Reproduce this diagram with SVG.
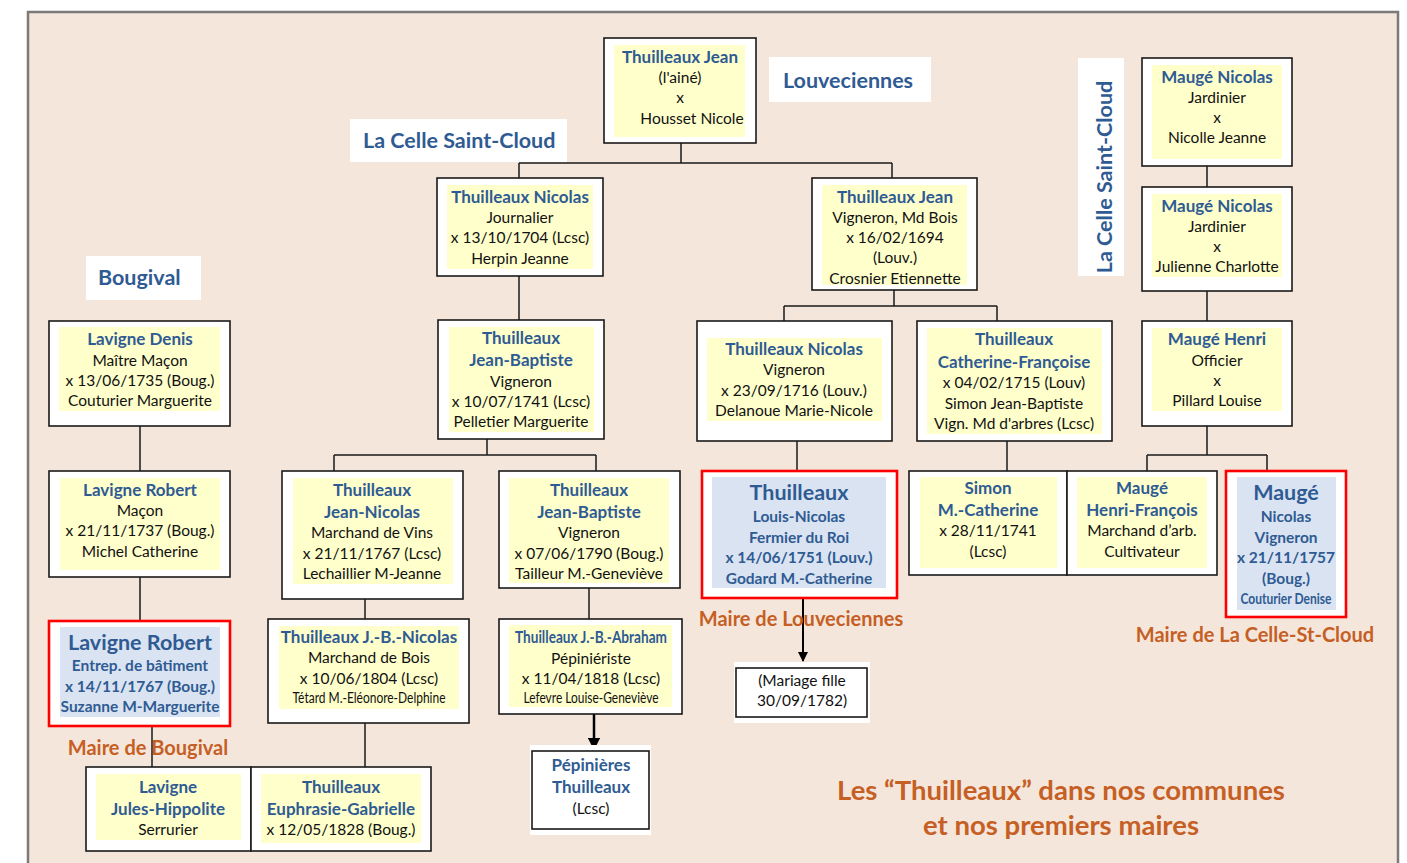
<svg xmlns="http://www.w3.org/2000/svg" width="1407" height="863" viewBox="0 0 1407 863">
<defs>
<style>
.bx{fill:#fff;stroke:#1a1a1a;stroke-width:1.6}
.rb{fill:#fff;stroke:#ff0000;stroke-width:2.6}
.y{fill:#ffffcc}
.b{fill:#dae3f1}
.w{fill:#fff}
text{font-family:Lato,"Open Sans","Liberation Sans",sans-serif;text-anchor:middle}
.n{font-weight:bold;font-size:17px;fill:#2f5b93}
.m{font-weight:bold;font-size:15.5px;fill:#2f5b93}
.t{font-size:15.5px;fill:#111}
.nb{font-weight:bold;font-size:21.5px;fill:#2f5b93}
.lab{font-weight:bold;font-size:21.5px;fill:#2f5b93;text-anchor:start}
.or{font-weight:bold;font-size:20px;fill:#c55f24}
.ti{font-weight:bold;font-size:27.5px;fill:#c55f24}
.c{fill:none;stroke:#1a1a1a;stroke-width:1.5}
</style>
<marker id="ah" viewBox="0 0 10 10" refX="9" refY="5" markerWidth="5" markerHeight="5" orient="auto"><path d="M0,0 L10,5 L0,10 z" fill="#000"/></marker>
</defs>
<rect x="0" y="0" width="1407" height="863" fill="#ffffff"/>
<rect x="28" y="12" width="1370" height="870" fill="#f5e6dc" stroke="#7a7a7a" stroke-width="2.5"/>

<g id="labels">
<rect class="w" x="769" y="57" width="162" height="45"/>
<text class="lab" x="783" y="88">Louveciennes</text>
<rect class="w" x="350" y="119" width="217" height="43"/>
<text class="lab" x="363" y="148">La Celle Saint-Cloud</text>
<rect class="w" x="86" y="256" width="115" height="44"/>
<text class="lab" x="98" y="285">Bougival</text>
<rect class="w" x="1078" y="58" width="46" height="218"/>
<text class="nb" transform="translate(1112,177) rotate(-90)">La Celle Saint-Cloud</text>
</g>

<g id="connectors">
<path class="c" d="M681,143 V163 M519,163 H892 M519,163 V178 M892,163 V178"/>
<path class="c" d="M519,276 V320"/>
<path class="c" d="M894,290 V306 M784,306 H997 M784,306 V321 M997,306 V321"/>
<path class="c" d="M1207,158 V187 M1207,291 V321"/>
<path class="c" d="M1207,426 V455 M1147,455 H1267 M1147,455 V471 M1267,455 V470"/>
<path class="c" d="M1007,441 V471"/>
<path class="c" d="M797,441 V470"/>
<path class="c" d="M140,426 V471 M140,577 V620 M152,726 V767"/>
<path class="c" d="M487,388 V455 M334,455 H596 M334,455 V471 M596,455 V471"/>
<path class="c" d="M365,599 V619 M365,723 V767"/>
<path class="c" d="M589,578 V619"/>
<path d="M803,598 V661" fill="none" stroke="#000" stroke-width="2" marker-end="url(#ah)"/>
<path d="M594,714 V749" fill="none" stroke="#000" stroke-width="2.5" marker-end="url(#ah)"/>
</g>

<g id="n-jean-aine">
<rect class="bx" x="604" y="38" width="152" height="105"/>
<rect class="y" x="614" y="45" width="131" height="92"/>
<text class="n" x="680" y="63">Thuilleaux Jean</text>
<text class="t" x="680" y="83">(l'ainé)</text>
<text class="t" x="680" y="103">x</text>
<text class="t" x="692" y="124">Housset Nicole</text>
</g>

<g id="n-nicolas-journalier">
<rect class="bx" x="437" y="178" width="166" height="98"/>
<rect class="y" x="447" y="185" width="146" height="84"/>
<text class="n" x="520" y="203">Thuilleaux Nicolas</text>
<text class="t" x="520" y="223">Journalier</text>
<text class="t" x="520" y="243">x 13/10/1704 (Lcsc)</text>
<text class="t" x="520" y="264">Herpin Jeanne</text>
</g>

<g id="n-jean-vigneron">
<rect class="bx" x="812" y="178" width="165" height="112"/>
<rect class="y" x="822" y="185" width="145" height="100"/>
<text class="n" x="895" y="203">Thuilleaux Jean</text>
<text class="t" x="895" y="223">Vigneron, Md Bois</text>
<text class="t" x="895" y="243">x 16/02/1694</text>
<text class="t" x="895" y="263">(Louv.)</text>
<text class="t" x="895" y="284">Crosnier Etiennette</text>
</g>

<g id="n-mauge-nicolas-1">
<rect class="bx" x="1142" y="58" width="150" height="108"/>
<rect class="y" x="1152" y="65" width="130" height="94"/>
<text class="n" x="1217" y="83">Maugé Nicolas</text>
<text class="t" x="1217" y="103">Jardinier</text>
<text class="t" x="1217" y="123">x</text>
<text class="t" x="1217" y="143">Nicolle Jeanne</text>
</g>

<g id="n-mauge-nicolas-2">
<rect class="bx" x="1142" y="187" width="150" height="104"/>
<rect class="y" x="1152" y="194" width="130" height="83"/>
<text class="n" x="1217" y="212">Maugé Nicolas</text>
<text class="t" x="1217" y="232">Jardinier</text>
<text class="t" x="1217" y="252">x</text>
<text class="t" x="1217" y="272">Julienne Charlotte</text>
</g>

<g id="n-mauge-henri">
<rect class="bx" x="1142" y="321" width="150" height="105"/>
<rect class="y" x="1152" y="328" width="130" height="83"/>
<text class="n" x="1217" y="345">Maugé Henri</text>
<text class="t" x="1217" y="366">Officier</text>
<text class="t" x="1217" y="386">x</text>
<text class="t" x="1217" y="406">Pillard Louise</text>
</g>

<g id="n-lavigne-denis">
<rect class="bx" x="49" y="321" width="181" height="105"/>
<rect class="y" x="59" y="327" width="161" height="84"/>
<text class="n" x="140" y="345">Lavigne Denis</text>
<text class="t" x="140" y="366">Maître Maçon</text>
<text class="t" x="140" y="386">x 13/06/1735 (Boug.)</text>
<text class="t" x="140" y="406">Couturier Marguerite</text>
</g>

<g id="n-jb-1741">
<rect class="bx" x="438" y="320" width="166" height="119"/>
<rect class="y" x="449" y="327" width="145" height="105"/>
<text class="n" x="521" y="344">Thuilleaux</text>
<text class="n" x="521" y="366">Jean-Baptiste</text>
<text class="t" x="521" y="387">Vigneron</text>
<text class="t" x="521" y="407">x 10/07/1741 (Lcsc)</text>
<text class="t" x="521" y="427">Pelletier Marguerite</text>
</g>

<g id="n-nicolas-1716">
<rect class="bx" x="697" y="321" width="195" height="120"/>
<rect class="y" x="707" y="338" width="175" height="83"/>
<text class="n" x="794" y="355">Thuilleaux Nicolas</text>
<text class="t" x="794" y="375">Vigneron</text>
<text class="t" x="794" y="396">x 23/09/1716 (Louv.)</text>
<text class="t" x="794" y="416">Delanoue Marie-Nicole</text>
</g>

<g id="n-catherine-francoise">
<rect class="bx" x="917" y="321" width="195" height="120"/>
<rect class="y" x="927" y="328" width="175" height="106"/>
<text class="n" x="1014" y="345">Thuilleaux</text>
<text class="n" x="1014" y="368">Catherine-Françoise</text>
<text class="t" x="1014" y="388">x 04/02/1715 (Louv)</text>
<text class="t" x="1014" y="409">Simon Jean-Baptiste</text>
<text class="t" x="1014" y="429">Vign. Md d'arbres (Lcsc)</text>
</g>

<g id="n-lavigne-robert-macon">
<rect class="bx" x="49" y="471" width="181" height="106"/>
<rect class="y" x="60" y="478" width="160" height="92"/>
<text class="n" x="140" y="496">Lavigne Robert</text>
<text class="t" x="140" y="516">Maçon</text>
<text class="t" x="140" y="536">x 21/11/1737 (Boug.)</text>
<text class="t" x="140" y="557">Michel Catherine</text>
</g>

<g id="n-jean-nicolas">
<rect class="bx" x="282" y="471" width="181" height="128"/>
<rect class="y" x="293" y="478" width="160" height="106"/>
<text class="n" x="372" y="496">Thuilleaux</text>
<text class="n" x="372" y="518">Jean-Nicolas</text>
<text class="t" x="372" y="538">Marchand de Vins</text>
<text class="t" x="372" y="559">x 21/11/1767 (Lcsc)</text>
<text class="t" x="372" y="579">Lechaillier M-Jeanne</text>
</g>

<g id="n-jb-1790">
<rect class="bx" x="499" y="471" width="181" height="117"/>
<rect class="y" x="509" y="478" width="160" height="105"/>
<text class="n" x="589" y="496">Thuilleaux</text>
<text class="n" x="589" y="518">Jean-Baptiste</text>
<text class="t" x="589" y="538">Vigneron</text>
<text class="t" x="589" y="559">x 07/06/1790 (Boug.)</text>
<text class="t" x="589" y="579">Tailleur M.-Geneviève</text>
</g>

<g id="n-louis-nicolas">
<rect class="rb" x="702" y="471" width="195" height="127"/>
<rect class="b" x="712" y="477" width="174" height="111"/>
<text class="nb" x="799" y="500">Thuilleaux</text>
<text class="m" x="799" y="522">Louis-Nicolas</text>
<text class="m" x="799" y="543">Fermier du Roi</text>
<text class="m" x="799" y="563">x 14/06/1751 (Louv.)</text>
<text class="m" x="799" y="584">Godard M.-Catherine</text>
</g>

<g id="n-simon">
<rect class="bx" x="909" y="471" width="158" height="104"/>
<rect class="y" x="920" y="477" width="137" height="91"/>
<text class="n" x="988" y="494">Simon</text>
<text class="n" x="988" y="516">M.-Catherine</text>
<text class="t" x="988" y="536">x 28/11/1741</text>
<text class="t" x="988" y="557">(Lcsc)</text>
</g>

<g id="n-mauge-henri-francois">
<rect class="bx" x="1067" y="471" width="150" height="104"/>
<rect class="y" x="1077" y="477" width="130" height="91"/>
<text class="n" x="1142" y="494">Maugé</text>
<text class="n" x="1142" y="516">Henri-François</text>
<text class="t" x="1142" y="536">Marchand d’arb.</text>
<text class="t" x="1142" y="557">Cultivateur</text>
</g>

<g id="n-mauge-nicolas-maire">
<rect class="rb" x="1226" y="471" width="120" height="146"/>
<rect class="b" x="1237" y="477" width="99" height="133"/>
<text class="nb" x="1286" y="500">Maugé</text>
<text class="m" x="1286" y="522">Nicolas</text>
<text class="m" x="1286" y="543">Vigneron</text>
<text class="m" x="1286" y="563">x 21/11/1757</text>
<text class="m" x="1286" y="584">(Boug.)</text>
<text class="m" x="1286" y="604" font-size="13" textLength="91" lengthAdjust="spacingAndGlyphs">Couturier Denise</text>
</g>

<g id="n-lavigne-robert-maire">
<rect class="rb" x="49" y="621" width="181" height="105"/>
<rect class="b" x="60" y="627" width="160" height="90"/>
<text class="nb" x="140" y="650">Lavigne Robert</text>
<text class="m" x="140" y="671">Entrep. de bâtiment</text>
<text class="m" x="140" y="692">x 14/11/1767 (Boug.)</text>
<text class="m" x="140" y="712">Suzanne M-Marguerite</text>
</g>

<g id="n-jb-nicolas">
<rect class="bx" x="268" y="619" width="201" height="104"/>
<rect class="y" x="279" y="626" width="180" height="83"/>
<text class="n" x="369" y="643">Thuilleaux J.-B.-Nicolas</text>
<text class="t" x="369" y="663">Marchand de Bois</text>
<text class="t" x="369" y="684">x 10/06/1804 (Lcsc)</text>
<text class="t" x="369" y="703" font-size="13" textLength="153" lengthAdjust="spacingAndGlyphs">Tétard M.-Eléonore-Delphine</text>
</g>

<g id="n-jb-abraham">
<rect class="bx" x="499" y="619" width="183" height="95"/>
<rect class="y" x="509" y="625" width="163" height="82"/>
<text class="n" x="591" y="643" font-size="16" textLength="152" lengthAdjust="spacingAndGlyphs">Thuilleaux J.-B.-Abraham</text>
<text class="t" x="591" y="664">Pépiniériste</text>
<text class="t" x="591" y="684">x 11/04/1818 (Lcsc)</text>
<text class="t" x="591" y="703" font-size="13.5" textLength="135" lengthAdjust="spacingAndGlyphs">Lefevre Louise-Geneviève</text>
</g>

<g id="n-jules-hippolite">
<rect class="bx" x="86" y="767" width="165" height="84"/>
<rect class="y" x="96" y="774" width="145" height="66"/>
<text class="n" x="168" y="793">Lavigne</text>
<text class="n" x="168" y="815">Jules-Hippolite</text>
<text class="t" x="168" y="835">Serrurier</text>
</g>

<g id="n-euphrasie">
<rect class="bx" x="251" y="767" width="180" height="84"/>
<rect class="y" x="261" y="774" width="160" height="69"/>
<text class="n" x="341" y="793">Thuilleaux</text>
<text class="n" x="341" y="815">Euphrasie-Gabrielle</text>
<text class="t" x="341" y="835">x 12/05/1828 (Boug.)</text>
</g>

<g id="n-pepinieres">
<rect class="w" x="530" y="745" width="121" height="90"/>
<rect class="bx" x="532" y="751" width="117" height="78"/>
<text class="n" x="591" y="771">Pépinières</text>
<text class="n" x="591" y="793">Thuilleaux</text>
<text class="t" x="591" y="814">(Lcsc)</text>
</g>

<g id="n-mariage-fille">
<rect class="w" x="734" y="662" width="136" height="61"/>
<rect class="bx" x="736" y="668" width="131" height="49"/>
<text class="t" x="802" y="686">(Mariage fille</text>
<text class="t" x="802" y="706">30/09/1782)</text>
</g>

<g id="annotations">
<text class="or" x="148" y="755">Maire de Bougival</text>
<text class="or" x="801" y="626">Maire de Louveciennes</text>
<text class="or" x="1255" y="642">Maire de La Celle-St-Cloud</text>
<text class="ti" x="1061" y="800">Les “Thuilleaux” dans nos communes</text>
<text class="ti" x="1061" y="835">et nos premiers maires</text>
</g>
</svg>
